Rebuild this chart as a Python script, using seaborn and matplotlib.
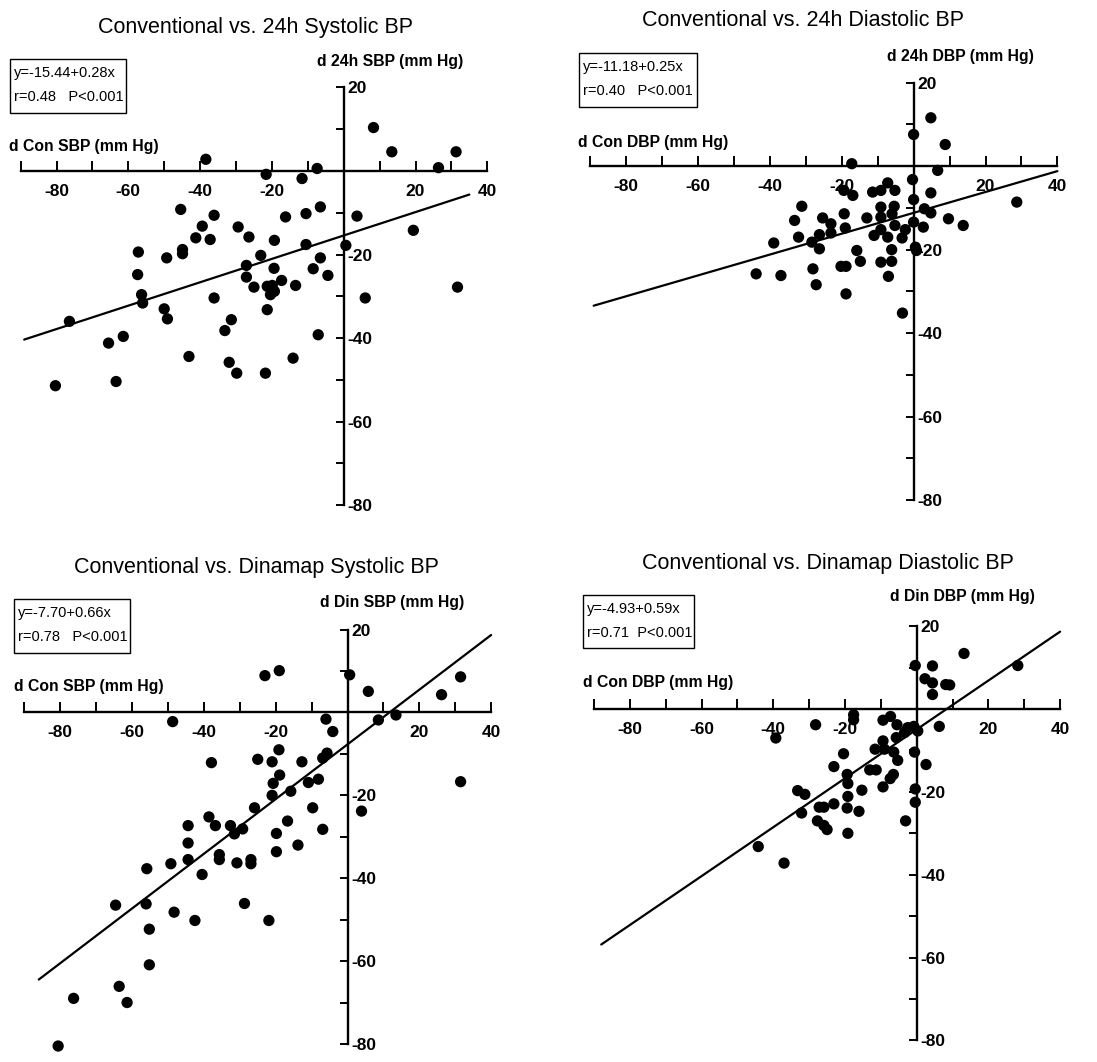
import numpy as np
import pandas as pd
import matplotlib
matplotlib.use("Agg")
import matplotlib.pyplot as plt
from matplotlib import font_manager
from matplotlib.patches import Rectangle
import seaborn as sns

# ---------------------------------------------------------------- data
# Panel A: conventional vs. 24h systolic BP (changes, mm Hg)
sbp24_con = [8.3, 13.4, 31.3, 26.4, -38.4, -7.4, -21.6, -11.6, -45.4, -36.1,
             -6.5, -10.5, -16.2, 3.7, -39.4, -29.4, -41.2, -37.2, -26.4, -19.3,
             19.4, -10.5, 0.6, -57.2, -44.9, -44.9, -49.3, -23.1, -6.5, -27.1,
             -19.4, -8.5, -4.4, -57.4, -27.1, -17.3, -25.0, -21.3, -19.9, -13.4,
             -19.3, -20.4, -56.3, -56.0, -36.1, 6.0, 31.7, -50.0, -49.1, -21.3,
             -31.3, -76.4, -33.1, -7.1, -61.4, -65.5, -43.1, -31.9, -14.1, -29.8,
             -21.8, -63.4, -80.3]
sbp24_amb = [10.4, 4.6, 4.6, 0.8, 2.8, 0.6, -0.8, -1.8, -9.2, -10.6,
             -8.6, -10.2, -11.0, -10.8, -13.2, -13.4, -16.0, -16.4, -15.8, -16.6,
             -14.2, -17.6, -17.8, -19.4, -18.8, -19.8, -20.8, -20.2, -20.8, -22.6,
             -23.3, -23.4, -25.0, -24.8, -25.4, -26.2, -27.8, -27.6, -27.4, -27.4,
             -28.8, -29.6, -29.6, -31.6, -30.4, -30.4, -27.8, -33.0, -35.4, -33.2,
             -35.6, -36.0, -38.2, -39.2, -39.6, -41.2, -44.4, -45.8, -44.8, -48.4,
             -48.4, -50.4, -51.4]

# Panel B: conventional vs. 24h diastolic BP
dbp24_con = [4.8, 0.0, 8.8, -17.2, 6.7, -0.3, -7.2, -19.4, -16.9, -11.4,
             -9.1, -5.2, 4.8, 0.0, 28.7, -31.1, -9.1, -5.4, 3.0, 4.8,
             -19.3, -6.0, -25.3, -13.0, -9.1, -33.1, 9.7, -23.0, 0.0, -5.2,
             2.7, 13.8, -19.0, -9.1, -2.3, -23.0, -32.0, -26.2, -11.0, -7.2,
             -3.2, -38.9, -28.3, -26.2, -15.8, -6.1, 0.5, 0.8, -14.8, -9.1,
             -6.1, -28.0, -20.2, -18.8, -43.8, -36.9, -7.0, -27.1, -18.8, -3.1]
dbp24_amb = [11.6, 7.6, 5.2, 0.6, -1.0, -3.2, -4.0, -5.8, -7.0, -6.2,
             -5.8, -5.8, -6.4, -8.0, -8.6, -9.6, -9.8, -9.6, -10.2, -11.2,
             -11.4, -11.4, -12.4, -12.4, -12.2, -13.0, -12.6, -13.8, -13.4, -14.2,
             -14.6, -14.2, -14.8, -15.2, -15.2, -16.0, -17.0, -16.4, -16.6, -17.0,
             -17.2, -18.4, -18.2, -19.8, -20.2, -20.0, -19.4, -20.2, -22.8, -23.0,
             -22.8, -24.6, -24.0, -24.0, -25.8, -26.2, -26.4, -28.4, -30.6, -35.2]

# Panel C: conventional vs. Dinamap systolic BP
sbpdin_con = [-23.0, -19.0, 0.6, 5.8, 26.2, 31.5, 13.5, 8.6, -48.7, -6.0,
              -4.1, -19.1, -37.9, -25.0, -21.0, -12.7, -5.7, -6.9, -18.9, -10.9,
              -8.1, 31.5, -20.7, -15.8, -21.0, -25.9, -9.7, 3.9, -38.6, -44.4,
              -36.8, -32.6, -16.7, -29.2, -31.5, -6.9, -19.8, -44.4, -13.8, -19.8,
              -35.7, -35.7, -44.4, -30.8, -26.9, -26.9, -49.2, -55.9, -40.5, -64.6,
              -56.1, -48.3, -28.7, -42.5, -21.9, -55.2, -55.2, -63.6, -76.3, -61.4,
              -80.6]
sbpdin_din = [8.9, 10.1, 9.1, 5.1, 4.3, 8.6, -0.6, -1.8, -2.2, -1.6,
              -4.6, -9.0, -12.1, -11.3, -11.9, -11.9, -9.8, -11.0, -15.1, -16.9,
              -16.1, -16.7, -17.1, -19.0, -20.0, -23.0, -23.0, -23.8, -25.2, -27.3,
              -27.3, -27.3, -26.2, -28.1, -29.3, -28.2, -29.2, -31.5, -32.0, -33.6,
              -34.3, -35.5, -35.5, -36.3, -35.5, -36.5, -36.5, -37.7, -39.1, -46.5,
              -46.2, -48.2, -46.1, -50.2, -50.2, -52.3, -60.9, -66.1, -69.0, -70.0,
              -80.5]

# Panel D: conventional vs. Dinamap diastolic BP
dbpdin_con = [13.2, 28.2, -0.4, 4.4, 2.3, 4.4, 8.1, 9.2, 4.4, -17.6,
              -17.6, -9.4, -7.3, -28.2, -5.5, 6.3, -2.5, -0.8, 0.3, -3.4,
              -5.7, -39.3, -9.4, -11.6, -9.0, -6.4, -0.6, -20.4, -5.3, 2.6,
              -23.1, -13.1, -11.3, -19.4, -6.5, -7.4, -19.2, -9.4, -0.4, -33.2,
              -31.2, -15.3, -19.2, -23.1, -0.4, -27.2, -25.9, -32.1, -19.4, -16.1,
              -3.1, -27.7, -25.9, -25.0, -19.2, -44.2, -37.0]
dbpdin_din = [13.4, 10.5, 10.5, 10.4, 7.3, 6.3, 5.9, 5.8, 3.5, -1.4,
              -2.6, -2.7, -1.8, -3.8, -3.8, -4.2, -4.5, -4.2, -5.3, -5.7,
              -6.9, -7.0, -7.7, -9.7, -9.7, -10.4, -10.4, -10.8, -12.4, -13.4,
              -13.9, -14.7, -14.7, -15.8, -15.8, -16.8, -18.0, -18.8, -19.3, -19.7,
              -20.6, -19.6, -21.1, -22.9, -22.5, -23.7, -23.7, -25.1, -23.9, -24.7,
              -27.0, -27.0, -28.1, -29.1, -30.0, -33.2, -37.2]

titles = ["Conventional vs. 24h Systolic BP", "Conventional vs. 24h Diastolic BP",
          "Conventional vs. Dinamap Systolic BP", "Conventional vs. Dinamap Diastolic BP"]
x_labels = ["d Con SBP (mm Hg)", "d Con DBP (mm Hg)", "d Con SBP (mm Hg)", "d Con DBP (mm Hg)"]
y_labels = ["d 24h SBP (mm Hg)", "d 24h DBP (mm Hg)", "d Din SBP (mm Hg)", "d Din DBP (mm Hg)"]
intercepts = [-15.44, -11.18, -7.70, -4.93]
slopes = [0.28, 0.25, 0.66, 0.59]
r_values = ["0.48", "0.40", "0.78", "0.71"]
p_texts = ["P<0.001", "P<0.001", "P<0.001", "P<0.001"]
fit_ranges = [(-89, 35), (-89, 40), (-86, 40), (-88, 40)]

x_ticks = list(range(-90, 41, 10))
x_tick_labels = ["" if v in (-90, -70, -50, -30, -10, 0, 10, 30) else str(v) for v in x_ticks]
y_ticks = list(range(-80, 21, 10))
y_tick_labels = [str(v) if v in (-80, -60, -40, -20, 20) else "" for v in y_ticks]

# ---------------------------------------------------------------- style
sns.set_theme(style="white")
names = {f.name for f in font_manager.fontManager.ttflist}
family = "Liberation Sans Narrow" if "Liberation Sans Narrow" in names else "Liberation Sans"
plt.rcParams["font.family"] = [family, "DejaVu Sans"]
plt.rcParams["axes.facecolor"] = "none"
plt.rcParams["text.color"] = "black"

W, H = 1097, 1062
fig = plt.figure(figsize=(W / 100, H / 100), dpi=100)
fig.patch.set_facecolor("white")

# panel layout: data origin (px), px per data unit in x and y, title centre, box, label anchors
layout = [
    dict(ox=343.7, oy=171.0, sx=3.59, sy=4.177, title=(256, 27), box=(10, 59, 116, 54),
         xl=(9, 147), yl=(317, 62), gap="   "),
    dict(ox=913.6, oy=166.2, sx=3.595, sy=4.173, title=(803, 21), box=(579, 53, 118, 54),
         xl=(578, 142), yl=(887, 56), gap="   "),
    dict(ox=347.5, oy=712.5, sx=3.59, sy=4.143, title=(256, 568), box=(14, 599, 116, 54),
         xl=(14, 687), yl=(320, 603), gap="   "),
    dict(ox=916.7, oy=709.0, sx=3.585, sy=4.143, title=(828, 563), box=(583, 595, 111, 53),
         xl=(583, 683), yl=(890, 597), gap="  "),
]
XLIM = (-95, 45)
YLIM = (-85, 25)

panels = [(sbp24_con, sbp24_amb), (dbp24_con, dbp24_amb),
          (sbpdin_con, sbpdin_din), (dbpdin_con, dbpdin_din)]

for i, (xs, ys) in enumerate(panels):
    L = layout[i]
    left = L["ox"] + L["sx"] * XLIM[0]
    right = L["ox"] + L["sx"] * XLIM[1]
    top = L["oy"] - L["sy"] * YLIM[1]
    bottom = L["oy"] - L["sy"] * YLIM[0]
    ax = fig.add_axes([left / W, 1 - bottom / H, (right - left) / W, (bottom - top) / H])

    df = pd.DataFrame({"x": xs, "y": ys})
    sns.scatterplot(data=df, x="x", y="y", ax=ax, color="black", s=66,
                    edgecolor="none", linewidth=0, zorder=3)

    x0, x1 = fit_ranges[i]
    fit = pd.DataFrame({"x": [x0, x1]})
    fit["y"] = intercepts[i] + slopes[i] * fit["x"]
    sns.lineplot(data=fit, x="x", y="y", ax=ax, color="black", lw=1.6, zorder=2)

    ax.set_xlim(*XLIM)
    ax.set_ylim(*YLIM)
    ax.set_xlabel("")
    ax.set_ylabel("")

    # cross-shaped axes through the origin
    for s in ("top", "left"):
        ax.spines[s].set_visible(False)
    ax.spines["bottom"].set_position(("data", 0))
    ax.spines["right"].set_position(("data", 0))
    ax.spines["bottom"].set_bounds(-90, 40)
    ax.spines["right"].set_bounds(-80, 20)
    for s in ("bottom", "right"):
        ax.spines[s].set_color("black")
        ax.spines[s].set_linewidth(1.7)
        ax.spines[s].set_zorder(1)

    ax.yaxis.tick_right()
    ax.set_xticks(x_ticks)
    ax.set_xticklabels(x_tick_labels)
    ax.set_yticks(y_ticks)
    ax.set_yticklabels(y_tick_labels)
    ax.tick_params(axis="x", direction="in", length=7, width=1.4, color="black",
                   pad=9, labelsize=12.5, labelcolor="black", bottom=True)
    ax.tick_params(axis="y", direction="in", length=6, width=1.4, color="black",
                   pad=3, labelsize=12.5, labelcolor="black", right=True, left=False)
    for lab in ax.get_xticklabels() + ax.get_yticklabels():
        lab.set_fontweight("bold")

    # titles and axis names
    tx, ty = L["title"]
    fig.text(tx / W, 1 - ty / H, titles[i], ha="center", va="center", fontsize=15.5)
    fig.text(L["xl"][0] / W, 1 - L["xl"][1] / H, x_labels[i], ha="left", va="center",
             fontsize=11.3, fontweight="bold")
    fig.text(L["yl"][0] / W, 1 - L["yl"][1] / H, y_labels[i], ha="left", va="center",
             fontsize=11.3, fontweight="bold")

    # regression summary box
    bx, by, bw, bh = L["box"]
    fig.patches.append(Rectangle((bx / W, 1 - (by + bh) / H), bw / W, bh / H,
                                 transform=fig.transFigure, fill=False,
                                 edgecolor="black", linewidth=1.0))
    fig.text((bx + 4) / W, 1 - (by + 14) / H,
             f"y=-{abs(intercepts[i]):.2f}+{slopes[i]:.2f}x",
             ha="left", va="center", fontsize=10.5)
    fig.text((bx + 4) / W, 1 - (by + 38) / H,
             f"r={r_values[i]}{L['gap']}{p_texts[i]}", ha="left", va="center", fontsize=10.5)

fig.savefig("out.png", dpi=100, facecolor="white")
